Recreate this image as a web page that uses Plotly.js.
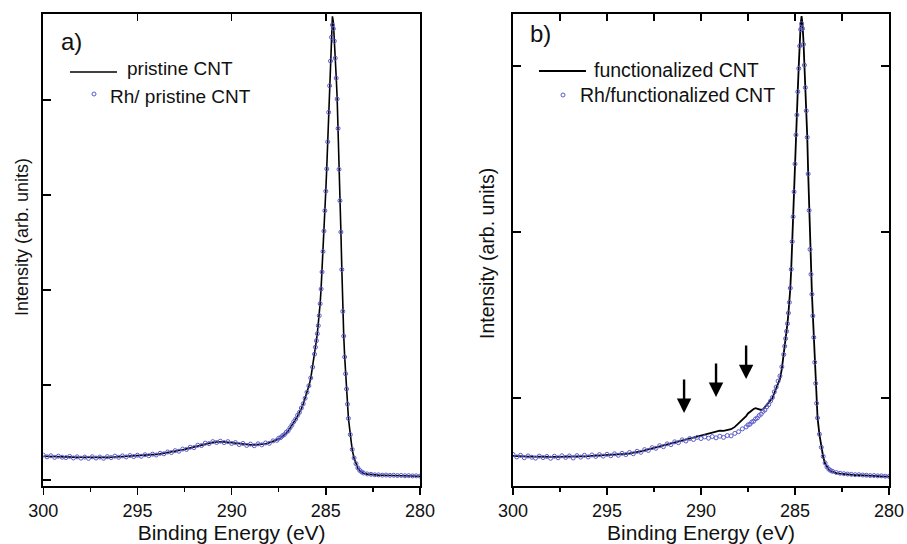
<!DOCTYPE html>
<html>
<head>
<meta charset="utf-8">
<script src="https://cdn.plot.ly/plotly-3.0.1.min.js"></script>
<style>html,body{margin:0;padding:0;background:#fff;}#chart{width:907px;height:544px;}</style>
</head>
<body>
<div id="chart"></div>
<script>
// Binding energy (eV), shared by all four series
const energy = [
  300.0, 299.8, 299.6, 299.4, 299.2, 299.0, 298.8, 298.6, 298.4, 298.2,
  298.0, 297.8, 297.6, 297.4, 297.2, 297.0, 296.8, 296.6, 296.4, 296.2,
  296.0, 295.8, 295.6, 295.4, 295.2, 295.0, 294.8, 294.6, 294.4, 294.2,
  294.0, 293.8, 293.6, 293.4, 293.2, 293.0, 292.8, 292.6, 292.4, 292.2,
  292.0, 291.8, 291.6, 291.4, 291.2, 291.0, 290.8, 290.6, 290.4, 290.2,
  290.0, 289.8, 289.6, 289.4, 289.2, 289.0, 288.8, 288.6, 288.4, 288.2,
  288.0, 287.8, 287.6, 287.5, 287.4, 287.3, 287.2, 287.1, 287.0, 286.9,
  286.8, 286.7, 286.6, 286.5, 286.4, 286.3, 286.2, 286.1, 286.0, 285.9,
  285.8, 285.7, 285.6, 285.55, 285.50, 285.45, 285.40, 285.35, 285.30, 285.25,
  285.20, 285.15, 285.10, 285.05, 285.00, 284.95, 284.90, 284.85, 284.80, 284.75,
  284.70, 284.65, 284.60, 284.55, 284.50, 284.45, 284.40, 284.35, 284.30, 284.25,
  284.20, 284.15, 284.10, 284.05, 284.00, 283.95, 283.90, 283.85, 283.80, 283.7,
  283.6, 283.5, 283.4, 283.3, 283.2, 283.1, 283.0, 282.8, 282.6, 282.4,
  282.2, 282.0, 281.8, 281.6, 281.4, 281.2, 281.0, 280.8, 280.6, 280.4,
  280.2, 280.0
];

// a) pristine CNT (line)
const pristineCNT = [
  0.250, 0.248, 0.247, 0.246, 0.245, 0.244, 0.243, 0.242, 0.241, 0.240,
  0.239, 0.238, 0.237, 0.237, 0.236, 0.236, 0.237, 0.238, 0.240, 0.242,
  0.244, 0.246, 0.248, 0.250, 0.252, 0.254, 0.256, 0.259, 0.262, 0.266,
  0.270, 0.275, 0.281, 0.287, 0.294, 0.301, 0.309, 0.318, 0.328, 0.338,
  0.349, 0.360, 0.371, 0.381, 0.390, 0.396, 0.400, 0.402, 0.401, 0.398,
  0.393, 0.387, 0.381, 0.376, 0.372, 0.370, 0.370, 0.372, 0.376, 0.382,
  0.392, 0.405, 0.422, 0.432, 0.444, 0.458, 0.475, 0.494, 0.515, 0.544,
  0.575, 0.607, 0.640, 0.675, 0.710, 0.752, 0.800, 0.857, 0.920, 0.990,
  1.070, 1.190, 1.330, 1.400, 1.470, 1.545, 1.630, 1.735, 1.860, 2.020,
  2.200, 2.420, 2.630, 2.850, 3.050, 3.290, 3.580, 3.890, 4.180, 4.440,
  4.700, 4.880, 4.820, 4.660, 4.470, 4.250, 4.030, 3.720, 3.280, 2.950,
  2.620, 2.220, 1.780, 1.520, 1.300, 1.120, 0.960, 0.800, 0.650, 0.480,
  0.320, 0.230, 0.170, 0.125, 0.098, 0.082, 0.072, 0.062, 0.056, 0.053,
  0.051, 0.050, 0.049, 0.048, 0.047, 0.046, 0.045, 0.044, 0.043, 0.042,
  0.041, 0.040
];

// a) Rh/ pristine CNT (open circles)
const rhPristineCNT = [
  0.262, 0.244, 0.255, 0.238, 0.251, 0.240, 0.236, 0.249, 0.232, 0.244,
  0.230, 0.241, 0.228, 0.245, 0.231, 0.242, 0.229, 0.246, 0.236, 0.251,
  0.239, 0.254, 0.243, 0.258, 0.247, 0.261, 0.250, 0.266, 0.256, 0.272,
  0.263, 0.281, 0.276, 0.295, 0.289, 0.309, 0.303, 0.326, 0.322, 0.345,
  0.341, 0.366, 0.363, 0.388, 0.383, 0.404, 0.395, 0.409, 0.394, 0.404,
  0.385, 0.394, 0.373, 0.385, 0.364, 0.378, 0.361, 0.381, 0.370, 0.390,
  0.386, 0.412, 0.418, 0.440, 0.447, 0.466, 0.478, 0.502, 0.519, 0.550,
  0.578, 0.614, 0.642, 0.681, 0.712, 0.758, 0.803, 0.860, 0.924, 0.992,
  1.075, 1.188, 1.325, 1.398, 1.466, 1.540, 1.625, 1.730, 1.855, 2.010,
  2.190, 2.405, 2.620, 2.835, 3.040, 3.275, 3.560, 3.870, 4.150, 4.410,
  4.660, 4.790, 4.750, 4.620, 4.440, 4.230, 4.010, 3.700, 3.270, 2.940,
  2.610, 2.215, 1.775, 1.515, 1.295, 1.118, 0.958, 0.798, 0.648, 0.478,
  0.322, 0.232, 0.172, 0.128, 0.101, 0.085, 0.074, 0.064, 0.060, 0.055,
  0.054, 0.051, 0.052, 0.049, 0.050, 0.047, 0.048, 0.045, 0.046, 0.043,
  0.044, 0.041
];

// b) functionalized CNT (line)
const functionalizedCNT = [
  0.652, 0.650, 0.649, 0.648, 0.647, 0.647, 0.646, 0.646, 0.645, 0.645,
  0.645, 0.645, 0.646, 0.646, 0.647, 0.647, 0.648, 0.648, 0.649, 0.649,
  0.650, 0.651, 0.652, 0.653, 0.654, 0.656, 0.657, 0.659, 0.660, 0.662,
  0.664, 0.667, 0.670, 0.674, 0.679, 0.684, 0.690, 0.696, 0.702, 0.708,
  0.713, 0.719, 0.725, 0.731, 0.737, 0.743, 0.749, 0.755, 0.761, 0.768,
  0.774, 0.781, 0.783, 0.792, 0.795, 0.803, 0.802, 0.808, 0.812, 0.826,
  0.846, 0.872, 0.891, 0.907, 0.917, 0.930, 0.934, 0.939, 0.936, 0.933,
  0.928, 0.932, 0.945, 0.958, 0.972, 0.985, 1.000, 1.030, 1.060, 1.090,
  1.115, 1.175, 1.260, 1.310, 1.360, 1.400, 1.450, 1.510, 1.580, 1.660,
  1.780, 1.950, 2.100, 2.250, 2.420, 2.600, 2.720, 2.860, 3.000, 3.140,
  3.250, 3.300, 3.250, 3.150, 3.020, 2.880, 2.740, 2.580, 2.360, 2.140,
  1.900, 1.750, 1.630, 1.500, 1.370, 1.220, 1.090, 0.970, 0.880, 0.780,
  0.700, 0.645, 0.605, 0.582, 0.568, 0.560, 0.555, 0.548, 0.544, 0.541,
  0.539, 0.537, 0.536, 0.535, 0.533, 0.532, 0.531, 0.530, 0.529, 0.528,
  0.527, 0.526
];

// b) Rh/functionalized CNT (open circles)
const rhFunctionalizedCNT = [
  0.660, 0.645, 0.655, 0.640, 0.651, 0.643, 0.638, 0.650, 0.641, 0.648,
  0.637, 0.649, 0.640, 0.652, 0.642, 0.651, 0.639, 0.653, 0.644, 0.655,
  0.645, 0.657, 0.648, 0.659, 0.650, 0.661, 0.652, 0.664, 0.655, 0.667,
  0.659, 0.672, 0.664, 0.679, 0.673, 0.689, 0.684, 0.701, 0.697, 0.713,
  0.707, 0.724, 0.719, 0.736, 0.731, 0.748, 0.741, 0.756, 0.750, 0.763,
  0.756, 0.766, 0.758, 0.768, 0.760, 0.770, 0.763, 0.774, 0.772, 0.787,
  0.797, 0.814, 0.826, 0.838, 0.842, 0.855, 0.860, 0.874, 0.880, 0.895,
  0.903, 0.919, 0.928, 0.947, 0.960, 0.982, 1.003, 1.037, 1.066, 1.102,
  1.133, 1.188, 1.262, 1.312, 1.358, 1.402, 1.448, 1.512, 1.576, 1.662,
  1.775, 1.942, 2.092, 2.242, 2.410, 2.585, 2.705, 2.845, 2.985, 3.120,
  3.220, 3.255, 3.225, 3.130, 3.005, 2.870, 2.730, 2.570, 2.350, 2.130,
  1.895, 1.745, 1.625, 1.495, 1.365, 1.215, 1.088, 0.968, 0.880, 0.782,
  0.703, 0.648, 0.609, 0.585, 0.571, 0.563, 0.558, 0.551, 0.547, 0.544,
  0.542, 0.540, 0.538, 0.538, 0.536, 0.535, 0.533, 0.533, 0.531, 0.531,
  0.529, 0.528
];

// Arrows in panel b (energy, intensity at arrow tip)
const arrowEnergy = [290.9, 289.2, 287.6];
const arrowTip = [0.91, 1.006, 1.114];

const seriesNames = ['pristine CNT', 'Rh/ pristine CNT', 'functionalized CNT', 'Rh/functionalized CNT'];
const panelLabels = ['a)', 'b)'];
const xTitle = 'Binding Energy (eV)';
const yTitle = 'Intensity (arb. units)';

const W = 907, H = 544;
const px = v => v / W;
const py = v => 1 - v / H;
const markerColor = '#5a5acd';
const FONT = 'Arial, "Liberation Sans", sans-serif';

// Marker traces sit on the top (inward-tick) x axes, which share the bottom axes' range,
// so they are drawn above the lines as in the original.
const traces = [
  {x: energy, y: pristineCNT, xaxis: 'x', yaxis: 'y', mode: 'lines', name: seriesNames[0],
   line: {color: '#000', width: 1.6}},
  {x: energy, y: rhPristineCNT, xaxis: 'x3', yaxis: 'y', mode: 'markers', name: seriesNames[1],
   marker: {symbol: 'circle-open', size: 4, color: markerColor, line: {width: 1, color: markerColor}}},
  {x: energy, y: functionalizedCNT, xaxis: 'x2', yaxis: 'y2', mode: 'lines', name: seriesNames[2],
   line: {color: '#000', width: 1.8}},
  {x: energy, y: rhFunctionalizedCNT, xaxis: 'x4', yaxis: 'y2', mode: 'markers', name: seriesNames[3],
   marker: {symbol: 'circle-open', size: 4, color: markerColor, line: {width: 1, color: markerColor}}}
];

const yDom = [py(486), py(14)];
const domA = [px(43.3), px(420)];
const domB = [px(513), px(889)];

function bottomX(dom, anchor) {
  return {
    domain: dom, anchor: anchor, range: [300, 280], tick0: 300, dtick: 5,
    ticks: 'outside', ticklen: 7, tickwidth: 1.5, tickcolor: '#000',
    minor: {tick0: 300, dtick: 2.5, ticks: 'outside', ticklen: 4, tickwidth: 1.5, tickcolor: '#000'},
    showline: true, linecolor: '#000', linewidth: 2, mirror: true,
    showgrid: false, zeroline: false,
    tickfont: {size: 18, color: '#111', family: FONT},
    title: {text: xTitle, font: {size: 21, color: '#111', family: FONT}, standoff: 3}
  };
}
function topX(over, anchor, step) {
  return {
    overlaying: over, anchor: anchor, side: 'top', range: [300, 280], tick0: 300, dtick: step,
    ticks: 'inside', ticklen: 7, tickwidth: 1.5, tickcolor: '#000',
    showticklabels: false, showline: false, showgrid: false, zeroline: false
  };
}
function leftY(anchor, range, vals, mirror) {
  return {
    domain: yDom, anchor: anchor, range: range, tickvals: vals,
    ticks: 'inside', ticklen: 8, tickwidth: 1.5, tickcolor: '#000',
    showticklabels: false, showline: true, linecolor: '#000', linewidth: 2,
    mirror: mirror, showgrid: false, zeroline: false
  };
}

const annotations = [
  {xref: 'paper', yref: 'paper', x: px(22), y: py(237), text: yTitle, textangle: -90, showarrow: false,
   xanchor: 'center', yanchor: 'middle', font: {size: 18, color: '#111', family: FONT}},
  {xref: 'paper', yref: 'paper', x: px(487), y: py(254), text: yTitle, textangle: -90, showarrow: false,
   xanchor: 'center', yanchor: 'middle', font: {size: 19.5, color: '#111', family: FONT}},
  {xref: 'paper', yref: 'paper', x: px(59), y: py(42), text: panelLabels[0], showarrow: false,
   xanchor: 'left', yanchor: 'middle', font: {size: 24, color: '#111', family: FONT}},
  {xref: 'paper', yref: 'paper', x: px(528), y: py(33), text: panelLabels[1], showarrow: false,
   xanchor: 'left', yanchor: 'middle', font: {size: 24, color: '#111', family: FONT}},
  {xref: 'paper', yref: 'paper', x: px(125), y: py(68), text: seriesNames[0], showarrow: false,
   xanchor: 'left', yanchor: 'middle', font: {size: 19, color: '#111', family: FONT}},
  {xref: 'paper', yref: 'paper', x: px(108), y: py(96), text: seriesNames[1], showarrow: false,
   xanchor: 'left', yanchor: 'middle', font: {size: 19, color: '#111', family: FONT}},
  {xref: 'paper', yref: 'paper', x: px(592), y: py(70), text: seriesNames[2], showarrow: false,
   xanchor: 'left', yanchor: 'middle', font: {size: 19.5, color: '#111', family: FONT}},
  {xref: 'paper', yref: 'paper', x: px(578), y: py(95), text: seriesNames[3], showarrow: false,
   xanchor: 'left', yanchor: 'middle', font: {size: 19.5, color: '#111', family: FONT}}
];
arrowEnergy.forEach((e, i) => {
  annotations.push({xref: 'x2', yref: 'y2', x: e, y: arrowTip[i], ax: 0, ay: -35, text: '',
    showarrow: true, arrowhead: 2, arrowsize: 1.2, arrowwidth: 2.4, arrowcolor: '#000', standoff: 0});
});

const shapes = [
  {type: 'line', xref: 'paper', yref: 'paper', x0: px(70), x1: px(117), y0: py(72), y1: py(72),
   line: {color: '#000', width: 1.6}},
  {type: 'circle', xref: 'paper', yref: 'paper', x0: px(92), x1: px(96), y0: py(96), y1: py(92),
   line: {color: markerColor, width: 1}},
  {type: 'line', xref: 'paper', yref: 'paper', x0: px(539), x1: px(586), y0: py(71), y1: py(71),
   line: {color: '#000', width: 1.8}},
  {type: 'circle', xref: 'paper', yref: 'paper', x0: px(561), x1: px(565), y0: py(97), y1: py(93),
   line: {color: markerColor, width: 1}}
];

const layout = {
  width: W, height: H,
  margin: {l: 0, r: 0, t: 0, b: 0},
  paper_bgcolor: '#fff', plot_bgcolor: '#fff',
  font: {family: FONT, color: '#111', size: 18},
  showlegend: false,
  xaxis: bottomX(domA, 'y'),
  xaxis2: bottomX(domB, 'y2'),
  xaxis3: topX('x', 'y', 5),
  xaxis4: topX('x2', 'y2', 2.5),
  yaxis: leftY('x', [-0.063, 4.905], [0, 1, 2, 3, 4], true),
  yaxis2: leftY('x2', [0.47, 3.313], [1, 2, 3], 'ticks'),
  annotations: annotations,
  shapes: shapes
};

Plotly.newPlot('chart', traces, layout, {staticPlot: true, displayModeBar: false});
</script>
</body>
</html>
